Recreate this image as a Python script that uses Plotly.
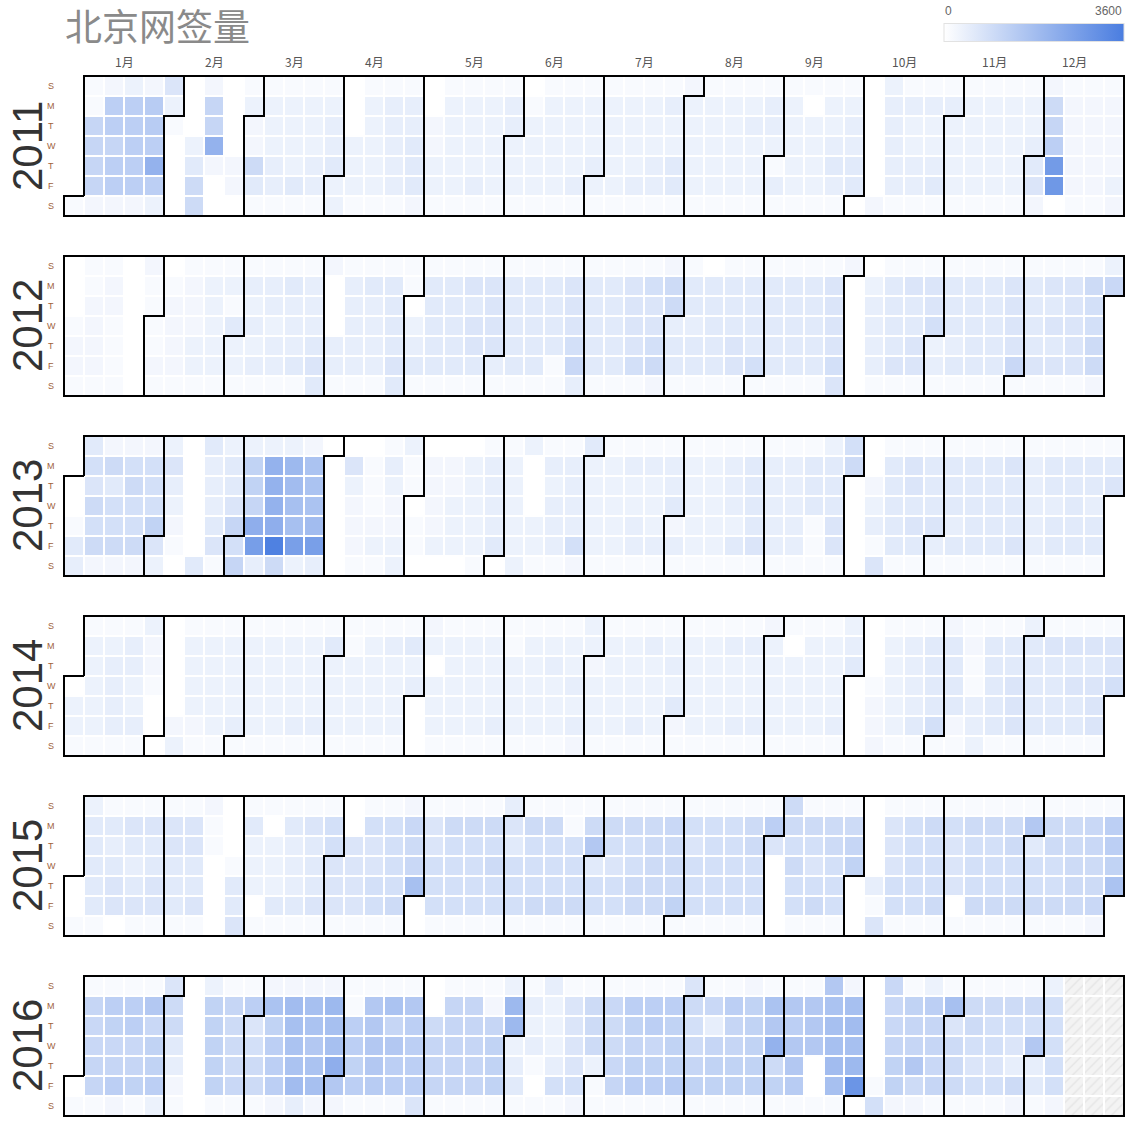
import datetime as dt
import numpy as np
import plotly.graph_objects as go

# ---------------- data ----------------
TITLE = "北京网签量"
YEARS = [2011, 2012, 2013, 2014, 2015, 2016]
MONTH_LABELS = ["1月", "2月", "3月", "4月", "5月", "6月", "7月", "8月", "9月", "10月", "11月", "12月"]
WEEKDAY_LABELS = ["S", "M", "T", "W", "T", "F", "S"]
SCALE_MIN, SCALE_MAX = 0, 3600

# one character per day, in date order from 1 Jan, grouped by calendar week (Sun..Sat)
# characters are the reading scale given in LEVEL_VALUES
V2011 = ("1 "
         "11aaaa2 2ccacc2 3ccccc2 2ddckc3 6310000 0003588 2aak200 0000220 1322851 "
         "1333441 1333351 1333441 1344533 0003331 1333331 1444441 1445552 0022331 "
         "1333331 1333341 1333331 1443331 0133331 1333331 1333341 1333431 1333331 "
         "1333341 1333441 1433551 2333331 1333331 1333331 1343331 1443141 1333331 "
         "1033331 1334541 1344550 0000002 3444441 1433441 1433451 1433331 1333331 "
         "1333331 1333331 1334562 28acrs0 1222221 1222221 1222232")
V2012 = ("0001221 1122221 1221111 0000000 2111121 0122221 1222331 1333331 1315331 "
         "1434341 1443441 1544451 1444565 2000441 1444441 1544441 1555565 1103451 "
         "1555551 1555551 1656651 1666641 1555551 1555551 1555511 1666794 1555551 "
         "1555551 1666671 1766782 2884551 1554551 0555551 1555661 1555571 1555551 "
         "1555551 1555551 1666676 2000000 0344441 1555561 1655661 1667341 1555451 "
         "1555551 1555551 1666691 1555561 1656561 1666661 1877882 39")
V2013 = ("00154 "
         "5768782 2857782 2787782 2777b63 3643210 0000005 5444561 3556a7a 3bbalq4 "
         "3kkklx8 3ihggp3 2fffhp4 0000000 0632221 0111231 1432233 3110110 0222230 "
         "0223330 0333331 1444450 1333333 3000331 1434441 1444472 5333331 1333331 "
         "1433441 1433341 1445241 1333331 1333331 1444351 1555561 1444441 1444441 "
         "1555111 3555661 7800000 0023416 1555551 1665651 1555641 1555451 1555551 "
         "1555551 1655561 1444441 1554551 1555551 1554551 156")
V2014 = ("0331 "
         "1333331 1344441 1443341 3221000 0000023 1333321 1333331 1333341 1333331 "
         "1333331 1333341 1333341 1533331 1133331 1333331 1433331 1534000 2303331 "
         "1333331 1333331 1333341 1133331 1333331 1343331 1334342 3323331 1333331 "
         "1333341 1433331 1343521 1333331 1333331 1433341 1433341 2333331 1033331 "
         "1333331 1333341 3450000 0001222 1333331 1444451 1555571 2555521 1211443 "
         "1555551 1556661 3555551 1655551 1656551 1656661 1667")
V2015 = ("001 "
         "3555551 1545660 1654561 1655661 1665551 1665561 2110000 0001556 1533301 "
         "1033351 1544451 1655561 1776661 0066661 1766771 1777781 2989g00 1667771 "
         "1877771 1877771 1878771 4657771 1877781 1877781 1177781 18e5771 1876771 "
         "1877881 1888881 19888b1 1767771 1777771 1777771 1887771 1c60000 8878771 "
         "1876781 1887771 18ab000 0000416 1666771 1777771 1877781 1766601 1877781 "
         "1877781 1887781 1e57781 1887781 1888881 1998892 1ccbf")
V2016 = ("01 "
         "1a99aa1 1cb9ac2 1cc9ab1 1e9bbc3 6885421 0000000 3bbbbb1 1a88891 1c67881 "
         "2fbccc2 2hgffh4 2gfefg2 2iggle2 11ccbc1 1eeeed1 1faecc1 1ecccc6 008aaa1 "
         "1aaaaa1 1aaaaa1 12abbb1 3ii3451 1434101 4333471 1666672 1888311 19889a1 "
         "1cbabc1 1cc9bc1 1cbbbd1 6878ab1 194abb1 1caabb1 2bbbbb1 1fek8b1 1eceed1 "
         "1eee001 efgghg1 2ghgit0 0000017 999abb2 1baae82 3caa9a1 1g68881 1887671 "
         "1877671 1876482 187e451 3777772")
# days after the end of V2016 have no data (drawn hatched)
YEAR_DATA = [V2011, V2012, V2013, V2014, V2015, V2016]

# approximate daily count for each reading level
LEVEL_VALUES = {
    "0": 0, "1": 130, "2": 240, "3": 370, "4": 480, "5": 590, "6": 710, "7": 870,
    "8": 990, "9": 1070, "a": 1130, "b": 1230, "c": 1330, "d": 1410, "e": 1510,
    "f": 1670, "g": 1750, "h": 1850, "i": 1950, "k": 2130, "l": 2230, "m": 2230,
    "p": 2660, "q": 2700, "r": 2780, "s": 2860, "t": 2940, "x": 3500, "z": 3600,
}

# ---------------- styles ----------------
LOW_COLOR = "#ffffff"
HIGH_COLOR = "#4a7de0"
LINE_COLOR = "#000000"
FONT = "Liberation Sans, Arial, Noto Sans CJK SC, sans-serif"
CJK_FONT = "Noto Sans CJK SC, Liberation Sans, sans-serif"
ROWS_PER_YEAR = 9          # 7 weekday rows + 2 spacer rows
N_WEEKS = 53
CELL = 20                  # pixels per cell
GRID_LEFT, GRID_TOP = 64, 76

W, H = 1148, 1126
ML, MR, MT, MB = 63, 23, 75, 9
XR = [-0.05, N_WEEKS + 0.05]
N_ROWS = ROWS_PER_YEAR * (len(YEARS) - 1) + 7
YR = [N_ROWS + 0.05, -0.05]


def sun_wd(d):
    return (d.weekday() + 1) % 7


def week_col(d):
    jan1 = dt.date(d.year, 1, 1)
    return (d.timetuple().tm_yday - 1 + sun_wd(jan1)) // 7


def month_end(y, m):
    nxt = dt.date(y + (m == 12), m % 12 + 1, 1)
    return nxt - dt.timedelta(days=1)


z = np.full((N_ROWS, N_WEEKS), np.nan)
missing_x, missing_base = [], []
for yi, (year, txt) in enumerate(zip(YEARS, YEAR_DATA)):
    codes = txt.replace(" ", "")
    d = dt.date(year, 1, 1)
    i = 0
    while d.year == year:
        r = yi * ROWS_PER_YEAR + sun_wd(d)
        c = week_col(d)
        if i < len(codes):
            z[r, c] = LEVEL_VALUES[codes[i]]
        else:
            missing_x.append(c + 0.5)
            missing_base.append(r + 0.05)
        d += dt.timedelta(days=1)
        i += 1

# month outlines (classic calendar-view path)
lx, ly = [], []
for yi, year in enumerate(YEARS):
    off = yi * ROWS_PER_YEAR
    for m in range(1, 13):
        t0, t1 = dt.date(year, m, 1), month_end(year, m)
        d0, w0 = sun_wd(t0), week_col(t0)
        d1, w1 = sun_wd(t1), week_col(t1)
        pts = [(w0 + 1, d0), (w0, d0), (w0, 7), (w1, 7), (w1, d1 + 1),
               (w1 + 1, d1 + 1), (w1 + 1, 0), (w0 + 1, 0), (w0 + 1, d0)]
        for px_, py_ in pts:
            lx.append(px_)
            ly.append(py_ + off)
        lx.append(None)
        ly.append(None)

plot_w = W - ML - MR
plot_h = H - MT - MB


def paper_x(px):
    return (px - ML) / plot_w


def paper_y(py):
    return (H - MB - py) / plot_h


def grid_px(col):
    return GRID_LEFT + CELL * col


def grid_py(row):
    return GRID_TOP + CELL * row


fig = go.Figure()
fig.add_trace(go.Heatmap(
    z=z, x0=0.5, dx=1, y0=0.5, dy=1,
    zmin=SCALE_MIN, zmax=SCALE_MAX,
    colorscale=[[0, LOW_COLOR], [1, HIGH_COLOR]],
    xgap=2, ygap=2, hoverongaps=False,
    colorbar=dict(
        orientation="h", lenmode="pixels", len=180,
        thicknessmode="pixels", thickness=18,
        x=paper_x(1124), xanchor="right", y=paper_y(33), yanchor="middle",
        xpad=0, ypad=0, showticklabels=False, ticks="",
        outlinewidth=1, outlinecolor="#e2e2e2",
    ),
))
if missing_x:
    fig.add_trace(go.Bar(
        x=missing_x, y=[0.9] * len(missing_x), base=missing_base, width=0.9,
        marker=dict(color="#f3f3f3", line=dict(width=0),
                    pattern=dict(shape="/", fgcolor="#d4d4d4", bgcolor="#f3f3f3",
                                 size=7, solidity=0.18)),
        hoverinfo="skip", showlegend=False,
    ))
fig.add_trace(go.Scatter(
    x=lx, y=ly, mode="lines", line=dict(color=LINE_COLOR, width=2),
    hoverinfo="skip", showlegend=False,
))

ann = []
# title
ann.append(dict(text=TITLE, xref="paper", yref="paper", x=paper_x(63), y=paper_y(25),
                xanchor="left", yanchor="middle", showarrow=False,
                font=dict(family=CJK_FONT, size=37, color="#8a8a8a")))
# legend labels
ann.append(dict(text=str(SCALE_MIN), xref="paper", yref="paper", x=paper_x(948), y=paper_y(11),
                xanchor="center", yanchor="middle", showarrow=False,
                font=dict(family=FONT, size=12, color="#666666")))
ann.append(dict(text=str(SCALE_MAX), xref="paper", yref="paper", x=paper_x(1124), y=paper_y(11),
                xanchor="right", yanchor="middle", showarrow=False,
                font=dict(family=FONT, size=12, color="#666666")))
# month labels, centred on the months of the first year
y0 = YEARS[0]
for m, lab in enumerate(MONTH_LABELS, start=1):
    w0 = week_col(dt.date(y0, m, 1))
    w1 = week_col(month_end(y0, m))
    ann.append(dict(text=lab, xref="paper", yref="paper",
                    x=paper_x(grid_px((w0 + w1 + 1) / 2)), y=paper_y(61),
                    xanchor="center", yanchor="middle", showarrow=False,
                    font=dict(family=CJK_FONT, size=12, color="#555555")))
# weekday + year labels
for yi, year in enumerate(YEARS):
    off = yi * ROWS_PER_YEAR
    for r, lab in enumerate(WEEKDAY_LABELS):
        ann.append(dict(text=lab, xref="paper", yref="paper",
                        x=paper_x(51), y=paper_y(grid_py(off + r + 0.5)),
                        xanchor="center", yanchor="middle", showarrow=False,
                        font=dict(family=FONT, size=9, color="#a0623c")))
    ann.append(dict(text=str(year), xref="paper", yref="paper",
                    x=paper_x(27), y=paper_y(grid_py(off + 3.5)),
                    xanchor="center", yanchor="middle", showarrow=False, textangle=-90,
                    font=dict(family=FONT, size=42, color="#333333")))

fig.update_layout(
    width=W, height=H,
    margin=dict(l=ML, r=MR, t=MT, b=MB, pad=0),
    paper_bgcolor="white", plot_bgcolor="white",
    showlegend=False, barmode="overlay",
    xaxis=dict(visible=False, range=XR, fixedrange=True),
    yaxis=dict(visible=False, range=YR, fixedrange=True),
    annotations=ann,
)

fig.write_html("out.html")
